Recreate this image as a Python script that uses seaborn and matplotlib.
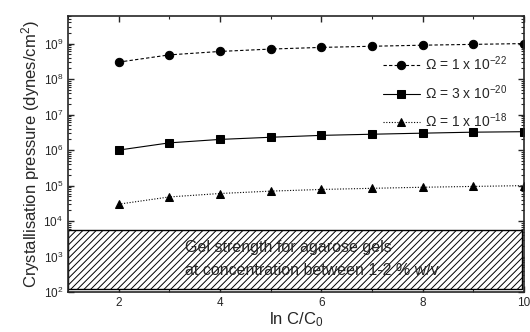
import numpy as np
import pandas as pd
import matplotlib
matplotlib.use('Agg')
import matplotlib.pyplot as plt
import seaborn as sns
from matplotlib.patches import Rectangle
from matplotlib.ticker import LogLocator, MultipleLocator

# Data
ln_c = [2, 3, 4, 5, 6, 7, 8, 9, 10]
p_omega_1e22 = [3.0e8, 4.8e8, 6.0e8, 7.0e8, 7.8e8, 8.4e8, 9.0e8, 9.5e8, 1.0e9]
p_omega_3e20 = [1.0e6, 1.6e6, 2.0e6, 2.3e6, 2.6e6, 2.8e6, 3.0e6, 3.2e6, 3.3e6]
p_omega_1e18 = [3.0e4, 4.8e4, 6.0e4, 7.0e4, 7.8e4, 8.4e4, 9.0e4, 9.5e4, 1.0e5]
series_labels = [r'$\Omega$ = 1 x 10$^{-22}$', r'$\Omega$ = 3 x 10$^{-20}$', r'$\Omega$ = 1 x 10$^{-18}$']

# gel strength band (x range, pressure range)
gel_x = [1.0, 9.95]
gel_p = [1.2e2, 5.6e3]
gel_text = ['Gel strength for agarose gels', 'at concentration between 1-2 % w/v']

sns.set_style('ticks')
plt.rcParams['font.family'] = ['Liberation Sans', 'DejaVu Sans']
plt.rcParams['mathtext.fontset'] = 'custom'
plt.rcParams['mathtext.rm'] = 'Liberation Sans'
plt.rcParams['mathtext.it'] = 'Liberation Sans'
plt.rcParams['hatch.linewidth'] = 0.7

fig = plt.figure(figsize=(5.3, 3.32), dpi=100)
ax = fig.add_axes([0.128, 0.12, 0.861, 0.832])

styles = [('o', (0, (3, 2))), ('s', '-'), ('^', (0, (1, 1.5)))]
for vals, lab, (mk, ls) in zip([p_omega_1e22, p_omega_3e20, p_omega_1e18], series_labels, styles):
    sns.lineplot(x=ln_c, y=vals, ax=ax, color='black', marker=mk, linestyle=ls,
                 markersize=6, markeredgecolor='black', linewidth=0.8, label=lab)

ax.add_patch(Rectangle((gel_x[0], gel_p[0]), gel_x[1] - gel_x[0], gel_p[1] - gel_p[0],
                       facecolor='white', edgecolor='black', hatch='/////', linewidth=1.0, zorder=1))
ax.text(3.32, 10**3.27, gel_text[0], fontsize=11.5, va='center', ha='left')
ax.text(3.32, 10**2.62, gel_text[1], fontsize=11.5, va='center', ha='left')

ax.set_yscale('log')
ax.set_xlim(1, 10)
ax.set_ylim(1e2, 6e9)
ax.xaxis.set_major_locator(MultipleLocator(2))
ax.xaxis.set_minor_locator(MultipleLocator(1))
ax.yaxis.set_major_locator(LogLocator(base=10, numticks=20))
ax.yaxis.set_minor_locator(LogLocator(base=10, subs=np.arange(2, 10), numticks=20))
ax.tick_params(which='both', direction='in', top=True, right=True, labelsize=8.5)
ax.tick_params(which='major', length=4, width=1)
ax.tick_params(which='minor', length=2, width=0.8)
for s in ax.spines.values():
    s.set_linewidth(1.2)

ax.set_xlabel(r'ln C/C$_0$', fontsize=12, labelpad=1)
ax.set_ylabel(r'Crystallisation pressure (dynes/cm$^2$)', fontsize=12, labelpad=1)

leg = ax.legend(loc='upper left', bbox_to_anchor=(0.69, 0.86), frameon=False, fontsize=10,
                handlelength=2.7, handletextpad=0.35, labelspacing=0.7, borderaxespad=0, borderpad=0)

fig.savefig('out.png', dpi=100)
